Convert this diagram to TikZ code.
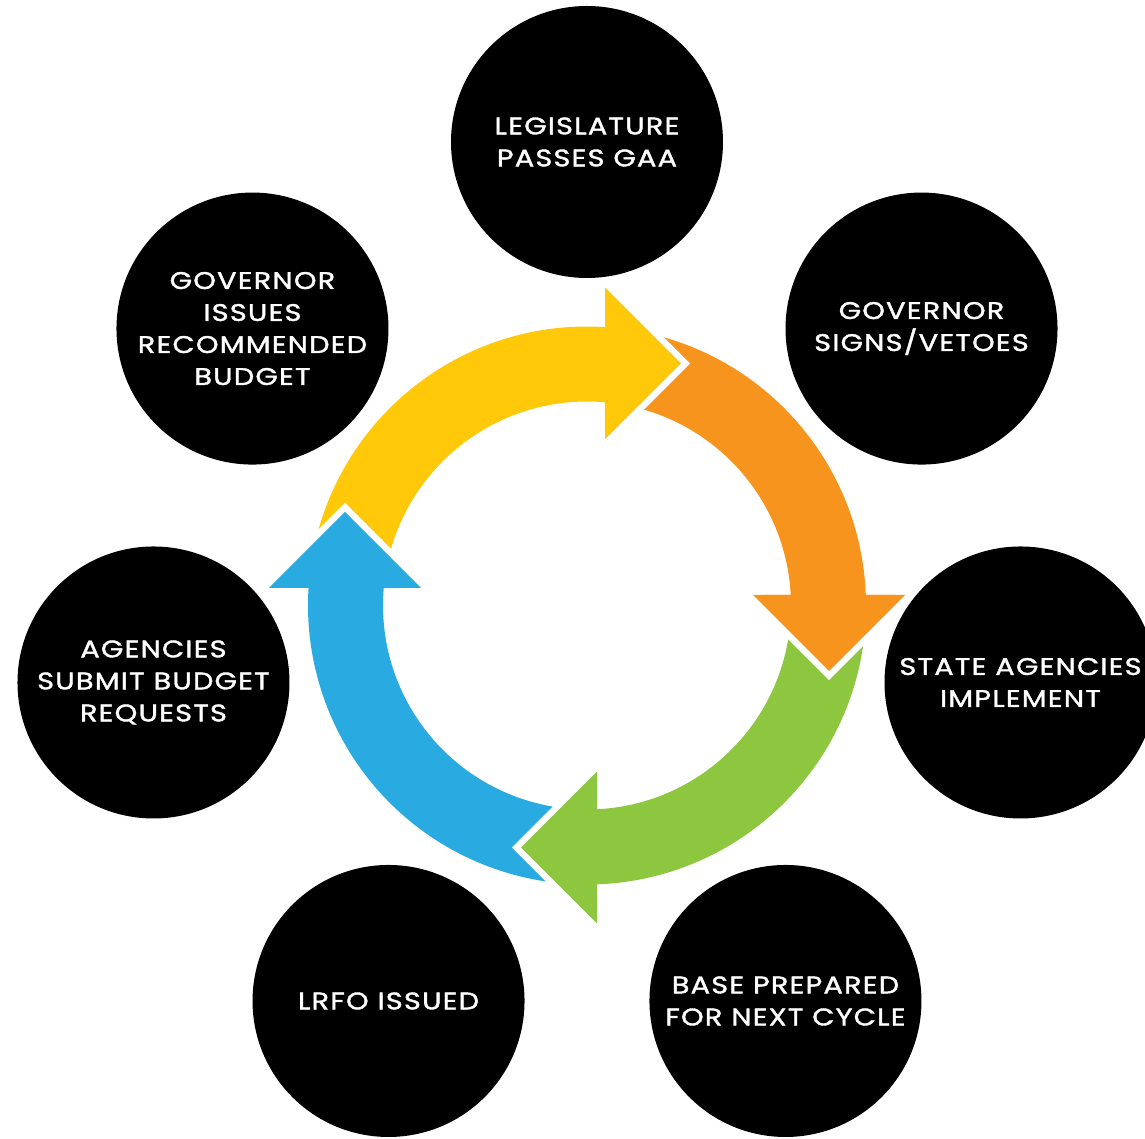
\documentclass[tikz,border=0pt]{standalone}
\usepackage{fontspec}
\newfontfamily\stagefont[LetterSpace=5, FakeStretch=1.2, FakeBold=1.5]{Poppins}
\definecolor{cycleyellow}{HTML}{FFC90A}
\definecolor{cycleorange}{HTML}{F7941E}
\definecolor{cyclegreen}{HTML}{8DC63F}
\definecolor{cycleblue}{HTML}{29ABE2}
\begin{document}
\begin{tikzpicture}[x=1pt, y=1pt,
    stage/.style={circle, fill=black, text=white, minimum size=272pt, inner sep=0pt,
      align=center, font=\stagefont\fontsize{24}{32}\selectfont},
    gap/.style={white, line width=13pt}]
      \useasboundingbox (-587,-533.5) rectangle (558,605.5);
      \draw
        (90.0:463.5) node[stage] (legislature){LEGISLATURE\\PASSES GAA}
        (39.62:434.3) node[stage] (signs){GOVERNOR\\SIGNS/VETOES}
        (-10.07:440.3) node[stage] (implement){STATE AGENCIES\\IMPLEMENT}
        (-63.35:442.5) node[stage] (base){BASE PREPARED\\FOR NEXT CYCLE}
        (243.35:442.5) node[stage] (lrfo){LRFO ISSUED}
        (190.07:440.3) node[stage] (requests){AGENCIES\\SUBMIT BUDGET\\REQUESTS}
        (140.38:434.3) node[stage] (recommend){GOVERNOR\\ISSUES\\RECOMMENDED\\BUDGET};
      % the four arrows of the cycle
      \fill[cycleyellow] (172.3:279) arc[start angle=172.3, end angle=86.3, radius=279]
        -- (18,318) -- (94,242) -- (18,166) -- (84.94:204)
        arc[start angle=84.94, end angle=172.3, radius=204] -- cycle;
      \fill[cycleorange] (82.16:279) arc[start angle=82.16, end angle=2.16, radius=279]
        -- (318,10.5) -- (242,-65.5) -- (166,10.5) -- (2.95:204)
        arc[start angle=2.95, end angle=82.16, radius=204] -- cycle;
      \fill[cyclegreen] (-1.07:279) arc[start angle=-1.07, end angle=-87.95, radius=279]
        -- (10,-318) -- (-66,-242) -- (10,-166) -- (-87.19:204)
        arc[start angle=-87.19, end angle=-1.07, radius=204] -- cycle;
      \fill[cycleblue] (268.82:279) arc[start angle=268.82, end angle=176.4, radius=279]
        -- (-318,17.5) -- (-242,93.5) -- (-166,17.5) -- (175.08:204)
        arc[start angle=175.08, end angle=268.82, radius=204] -- cycle;
      % heads again on top, cut free from the next tail
      \begin{scope}
        \draw[gap] (18,318) -- (94,242) -- (18,166);
        \fill[cycleyellow] (18,318) -- (94,242) -- (18,166) -- cycle;
        \draw[gap] (318,10.5) -- (242,-65.5) -- (166,10.5);
        \fill[cycleorange] (318,10.5) -- (242,-65.5) -- (166,10.5) -- cycle;
        \draw[gap] (10,-318) -- (-66,-242) -- (10,-166);
        \fill[cyclegreen] (10,-318) -- (-66,-242) -- (10,-166) -- cycle;
        \draw[gap] (-318,17.5) -- (-242,93.5) -- (-166,17.5);
        \fill[cycleblue] (-318,17.5) -- (-242,93.5) -- (-166,17.5) -- cycle;
      \end{scope}
    \end{tikzpicture}
\end{document}
